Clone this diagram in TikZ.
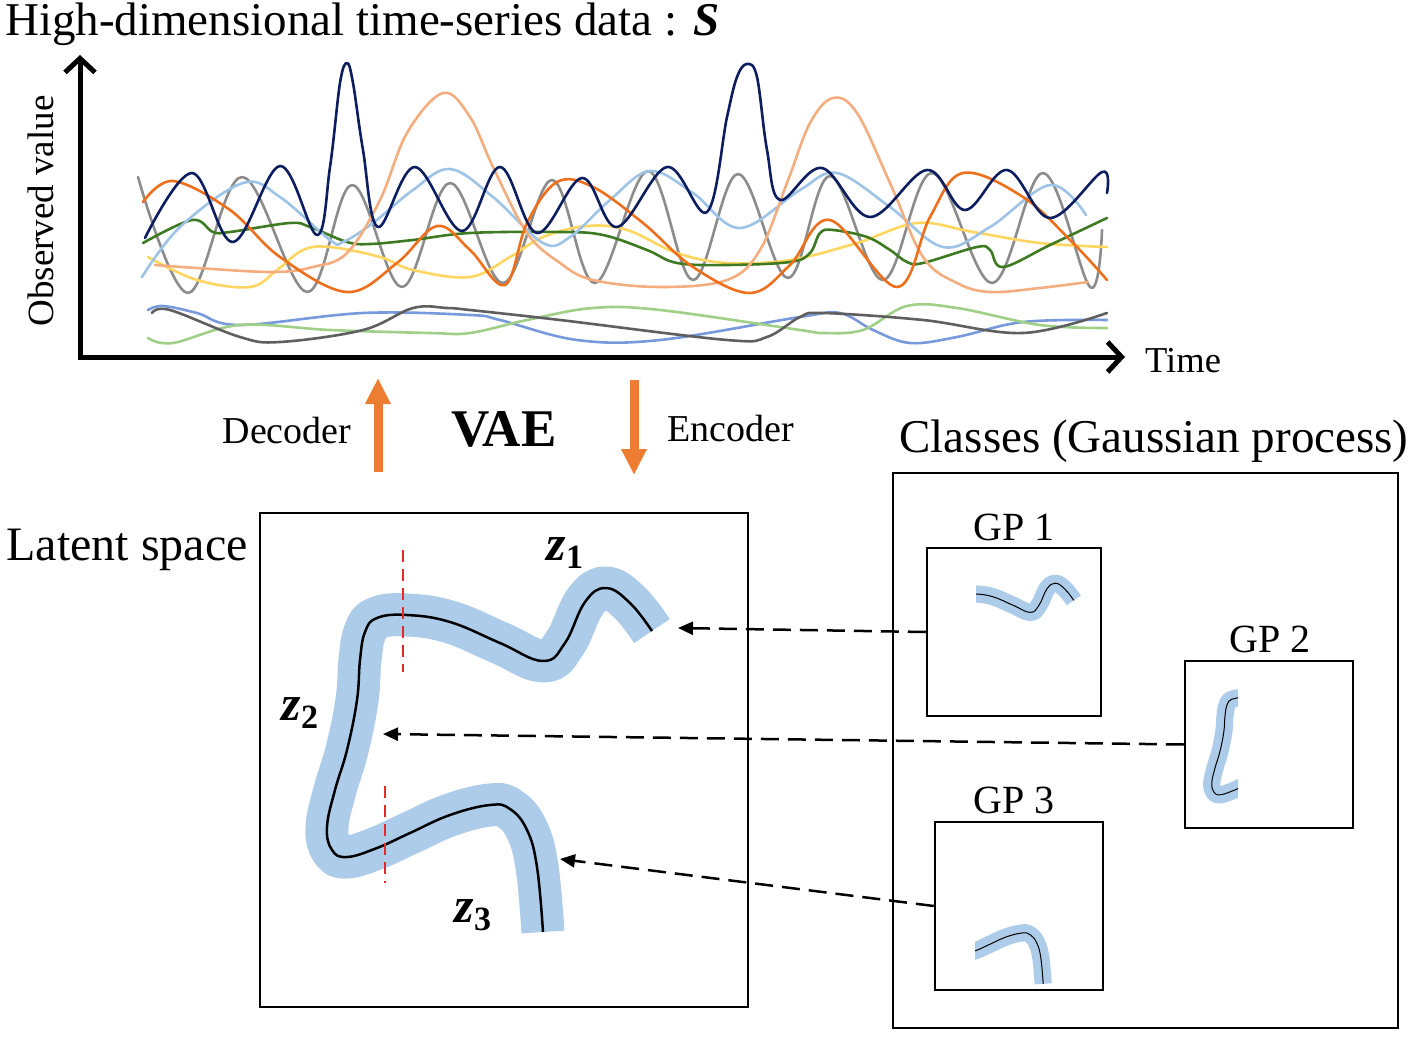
\documentclass[tikz,border=0pt]{standalone}
\usepackage{fontspec}
\setmainfont{Liberation Serif}
\usetikzlibrary{arrows.meta}
\definecolor{navyc}{RGB}{12,30,95}
\definecolor{salmonc}{RGB}{244,173,127}
\definecolor{grayc}{RGB}{140,140,140}
\definecolor{lblue}{RGB}{157,195,230}
\definecolor{orangec}{RGB}{238,112,28}
\definecolor{dgreen}{RGB}{62,122,34}
\definecolor{yellowc}{RGB}{255,214,95}
\definecolor{bluec}{RGB}{120,154,220}
\definecolor{dgray}{RGB}{95,95,95}
\definecolor{lgreen}{RGB}{160,208,135}
\definecolor{bandblue}{RGB}{172,204,234}
\definecolor{vaeorange}{RGB}{237,125,49}
\definecolor{redc}{RGB}{232,40,40}
\tikzset{
  boxn/.style={draw=black,line width=2.5pt,minimum width=#1,inner sep=0pt},
  txt/.style={inner sep=0pt,anchor=base},
  band/.style={line width=43pt,draw=bandblue,line cap=butt,line join=round},
  coreline/.style={line width=2.5pt,draw=black,line cap=butt,line join=round},
  miniband/.style={line width=17.2pt,draw=bandblue,line cap=butt,line join=round},
  minicore/.style={line width=1pt,draw=black,line cap=butt,line join=round},
  dasharrow/.style={line width=2.5pt,dash pattern=on 18pt off 9pt,-{Triangle[length=15pt,width=13pt]}},
  vaearrow/.style={line width=9pt,draw=vaeorange,-{Triangle[length=26pt,width=24pt]}},
  reddash/.style={line width=2.2pt,draw=redc,dash pattern=on 12pt off 7pt},
  axisline/.style={line width=5pt,line join=miter,{Straight Barb[length=14pt,width=30pt]}-{Straight Barb[length=14pt,width=30pt]}}
}
\newcommand\series[2]{\draw[line width=2.6pt,draw=#1,line join=round,line cap=round] plot[smooth,tension=0.6] coordinates {#2};}
\newcommand\zpath[1]{\draw[#1] plot[smooth,tension=0.7] coordinates {(652,631) (630,603) (606,588) (585,602) (565,643) (543,661) (500,643) (450,622) (407,615) (377,618) (365,632) (360,660) (357,700) (347,750) (335,790) (327,827) (332,850) (347,857) (377,848) (410,833) (450,815) (490,805) (510,809) (527,830) (537,867) (543,932)};}
\newcommand\zlab[1]{{\fontsize{50}{56}\selectfont\bfseries\itshape z}{\fontsize{34}{40}\selectfont\bfseries\raisebox{-8pt}{#1}}}
\begin{document}
\begin{tikzpicture}[x=1pt,y=-1pt]
\useasboundingbox (0,0) rectangle (1417,1038);
% ---- title and axes
\node[txt,anchor=base west] (title) at (5,36) {\fontsize{47}{56}\selectfont High-dimensional time-series data : \textbf{\textit{S}}};
\coordinate (ytip) at (80,55);
\coordinate (orig) at (80,357);
\coordinate (xtip) at (1125,357);
\draw[axisline] (ytip) -- (orig) -- (xtip);
\node[txt,rotate=90] (ylab) at (53,211) {\fontsize{37}{44}\selectfont Observed value};
\node[txt,anchor=base west] (xlab) at (1145,372) {\fontsize{36.5}{44}\selectfont Time};
% ---- time series
\series{bluec}{(148,310) (163,306) (197,313) (240,325) (363,313) (470,315) (500,320) (577,340) (660,340) (800,317) (840,313) (873,330) (910,343) (957,337) (1023,322) (1107,320)}
\series{lgreen}{(148,338) (173,343) (240,325) (330,330) (430,333) (470,333) (527,320) (593,308) (660,310) (800,330) (823,333) (863,330) (907,306) (957,308) (1040,325) (1107,328)}
\series{dgray}{(152,313) (170,310) (240,337) (280,342) (363,330) (413,308) (447,308) (470,310) (560,320) (727,340) (767,337) (800,317) (823,313) (923,320) (1023,333) (1107,313)}
\series{grayc}{(138,177) (188,293) (242,177) (307,292) (352,185) (402,287) (450,183) (503,283) (552,180) (595,283) (648,171) (693,280) (738,174) (788,278) (830,176) (883,280) (932,173) (992,283) (1043,173) (1090,287) (1102,230)}
\series{yellowc}{(148,257) (197,280) (250,287) (277,270) (303,250) (330,247) (380,257) (413,270) (470,277) (510,257) (543,237) (587,226) (627,230) (677,253) (727,263) (790,260) (857,243) (917,223) (973,232) (1040,243) (1107,247)}
\series{dgreen}{(143,243) (192,220) (213,232) (230,232) (290,223) (310,227) (347,242) (370,244) (413,240) (470,233) (560,232) (603,235) (647,250) (677,263) (727,265) (790,262) (810,253) (820,233) (833,230) (867,237) (890,250) (907,262) (923,263) (977,247) (990,250) (1003,267) (1050,245) (1107,218)}
\series{lblue}{(142,277) (180,227) (243,183) (280,197) (330,240) (343,242) (373,223) (413,190) (450,169) (493,197) (543,243) (570,237) (610,200) (650,171) (693,193) (740,228) (800,190) (837,173) (890,207) (943,247) (990,227) (1050,185) (1086,215)}
\series{salmonc}{(155,265) (197,268) (273,272) (313,267) (347,253) (380,200) (407,133) (443,93) (470,117) (493,167) (527,233) (560,263) (593,280) (660,287) (727,280) (760,250) (787,183) (810,123) (833,98) (857,113) (890,183) (923,257) (957,283) (990,292) (1040,288) (1088,282)}
\series{orangec}{(143,202) (173,181) (230,210) (280,257) (347,292) (397,263) (437,226) (470,250) (505,285) (527,223) (557,182) (593,187) (643,223) (693,267) (750,293) (790,265) (830,220) (897,287) (930,217) (963,173) (1023,197) (1073,243) (1107,280)}
\series{navyc}{(145,238) (192,173) (233,242) (280,166) (317,235) (330,167) (340,83) (347,63) (353,83) (363,150) (378,227) (415,167) (462,231) (500,167) (537,233) (582,178) (617,227) (667,167) (707,212) (727,117) (737,77) (747,64) (757,77) (767,150) (780,200) (822,168) (870,217) (927,170) (965,210) (1007,170) (1050,218) (1102,172) (1107,193)}
% ---- VAE
\coordinate (decA) at (378,472);
\coordinate (decB) at (378,378);
\coordinate (encA) at (634,380);
\coordinate (encB) at (634,475);
\draw[vaearrow] (decA) -- (decB);
\draw[vaearrow] (encA) -- (encB);
\node[txt] (dec) at (287,443) {\fontsize{38}{44}\selectfont Decoder};
\node[txt] (vae) at (504,446) {\fontsize{53}{60}\selectfont\bfseries VAE};
\node[txt] (enc) at (731,441) {\fontsize{38}{44}\selectfont Encoder};
% ---- latent space
\node[txt] (latlab) at (127,560) {\fontsize{48}{56}\selectfont Latent space};
\node[boxn=488pt,minimum height=494pt] (latent) at (504,760) {};
\zpath{band}
\zpath{coreline}
\coordinate (r1a) at (403,550); \coordinate (r1b) at (403,672);
\coordinate (r2a) at (385,786); \coordinate (r2b) at (385,883);
\draw[reddash] (r1a) -- (r1b);
\draw[reddash] (r2a) -- (r2b);
\node[txt] (z1) at (565,560) {\zlab{1}};
\node[txt] (z2) at (300,720) {\zlab{2}};
\node[txt] (z3) at (473,922) {\zlab{3}};
% ---- classes
\node[txt] (clslab) at (1154,452) {\fontsize{47}{56}\selectfont Classes (Gaussian process)};
\node[boxn=505pt,minimum height=555pt] (classes) at (1145.5,750.5) {};
\node[boxn=174pt,minimum height=168pt] (gp1) at (1014,632) {};
\node[boxn=168pt,minimum height=167pt] (gp2) at (1269,744.5) {};
\node[boxn=168pt,minimum height=168pt] (gp3) at (1019,906) {};
\node[txt] (gp1lab) at (1014,540) {\fontsize{40}{46}\selectfont GP 1};
\node[txt] (gp2lab) at (1270,652) {\fontsize{40}{46}\selectfont GP 2};
\node[txt] (gp3lab) at (1014,813) {\fontsize{40}{46}\selectfont GP 3};
% mini curves
\begin{scope}
  \clip (976,555) rectangle (1099,640);
  \begin{scope}[shift={(813,348)},scale=0.4]
    \zpath{miniband}
    \zpath{minicore}
  \end{scope}
\end{scope}
\begin{scope}
  \clip (1187,663) rectangle (1238,826);
  \begin{scope}[shift={(1081,452)},scale=0.4]
    \zpath{miniband}
    \zpath{minicore}
  \end{scope}
\end{scope}
\begin{scope}
  \clip (975,920) rectangle (1101,988);
  \begin{scope}[shift={(826,611)},scale=0.4]
    \zpath{miniband}
    \zpath{minicore}
  \end{scope}
\end{scope}
% ---- dashed arrows
\coordinate (t1) at (678,628);
\coordinate (t2) at (383,734);
\coordinate (t3) at (560,859);
\draw[dasharrow] (gp1.west) -- (t1);
\draw[dasharrow] (gp2.west) -- (t2);
\draw[dasharrow] (gp3.west) -- (t3);
\end{tikzpicture}
\end{document}
